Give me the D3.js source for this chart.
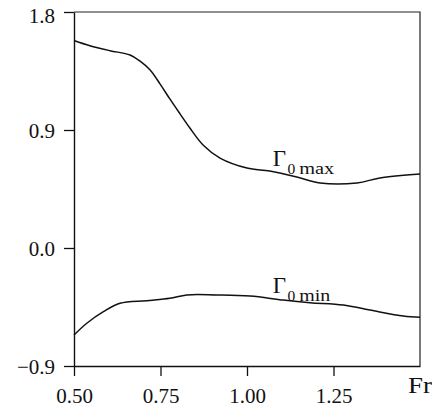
<!DOCTYPE html>
<html>
<head>
<meta charset="utf-8">
<script src="https://cdn.jsdelivr.net/npm/d3@7"></script>
<style>
  html, body { margin: 0; padding: 0; background: #fff; }
  svg { display: block; }
</style>
</head>
<body>
<svg id="chart" width="432" height="409"></svg>
<script>
// ---- data ----
const frMax    = [0.50, 0.546, 0.604, 0.662, 0.691, 0.72, 0.749, 0.777, 0.806, 0.835, 0.873, 0.922, 1.00, 1.066, 1.144, 1.211, 1.318, 1.384, 1.50];
const gammaMax = [1.583, 1.543, 1.505, 1.472, 1.425, 1.358, 1.250, 1.137, 1.025, 0.915, 0.786, 0.686, 0.610, 0.587, 0.542, 0.496, 0.496, 0.534, 0.564];
const frMin    = [0.50, 0.537, 0.585, 0.633, 0.71, 0.777, 0.826, 0.912, 1.009, 1.105, 1.182, 1.278, 1.355, 1.452, 1.50];
const gammaMin = [-0.664, -0.574, -0.486, -0.422, -0.402, -0.384, -0.358, -0.358, -0.366, -0.397, -0.417, -0.435, -0.473, -0.519, -0.529];
const xTicks = [0.50, 0.75, 1.00, 1.25];
const xTickLabels = ["0.50", "0.75", "1.00", "1.25"];
const yTicks = [-0.9, 0.0, 0.9, 1.8];
const yTickLabels = ["\u22120.9", "0.0", "0.9", "1.8"];
const xDomain = [0.5, 1.5];
const yDomain = [-0.9, 1.8];
const xTitle = "Fr";

const SERIF = "'Liberation Serif', 'DejaVu Serif', 'Noto Serif', 'Times New Roman', Times, serif";

// ---- layout ----
const svg = d3.select("#chart");
const L = 74, R = 420, T = 12, B = 366;
const x = d3.scaleLinear().domain(xDomain).range([L, R]);
const y = d3.scaleLinear().domain(yDomain).range([B, T]);

// frame (top & right)
svg.append("path")
  .attr("d", `M${L},${T}H${R}V${B}`)
  .attr("fill", "none").attr("stroke", "#222").attr("stroke-width", 1.2);

// x axis
const xAxis = svg.append("g").attr("transform", `translate(0,${B})`)
  .call(d3.axisBottom(x).tickValues(xTicks).tickSize(10).tickSizeOuter(0)
        .tickFormat((d, i) => xTickLabels[i]));
xAxis.attr("font-family", null);
xAxis.select(".domain").attr("stroke", "#111").attr("stroke-width", 1.4);
xAxis.selectAll(".tick line").attr("stroke", "#111").attr("stroke-width", 1.3);
xAxis.selectAll(".tick text")
  .attr("style", `font-family:${SERIF}`)
  .attr("font-size", 21)
  .attr("y", 37).attr("dy", 0).attr("fill", "#111");

// y axis
const yAxis = svg.append("g").attr("transform", `translate(${L},0)`)
  .call(d3.axisLeft(y).tickValues(yTicks).tickSize(10).tickSizeOuter(0)
        .tickFormat((d, i) => yTickLabels[i]));
yAxis.attr("font-family", null);
yAxis.select(".domain").attr("stroke", "#111").attr("stroke-width", 1.4);
yAxis.selectAll(".tick line").attr("stroke", "#111").attr("stroke-width", 1.3);
yAxis.selectAll(".tick text")
  .attr("style", `font-family:${SERIF}`)
  .attr("font-size", 21)
  .attr("x", -19).attr("dy", (d) => d === 1.8 ? "0.5em" : "0.34em")
  .attr("fill", "#111");

// x title
svg.append("text").attr("x", 408).attr("y", 393)
  .attr("style", `font-family:${SERIF}`)
  .attr("font-size", 23).attr("textLength", 24).attr("lengthAdjust", "spacingAndGlyphs")
  .attr("fill", "#111").text(xTitle);

// curves
const line = d3.line().x(d => x(d[0])).y(d => y(d[1])).curve(d3.curveCatmullRom.alpha(0.5));
svg.append("path").datum(d3.zip(frMax, gammaMax))
  .attr("d", line).attr("fill", "none").attr("stroke", "#111").attr("stroke-width", 1.5);
svg.append("path").datum(d3.zip(frMin, gammaMin))
  .attr("d", line).attr("fill", "none").attr("stroke", "#111").attr("stroke-width", 1.5);

// curve labels
function gLabel(fx, fy, sub, subW) {
  const px = x(fx), py = y(fy);
  const g1 = svg.append("text").attr("x", px + 1.5).attr("y", py)
    .attr("style", `font-family:${SERIF}`).attr("font-size", 23).attr("fill", "#111").text("\u0393");
  const w1 = g1.node().getComputedTextLength();
  const g2 = svg.append("text").attr("x", px + 1.5 + w1 + 1.5).attr("y", py + 8)
    .attr("style", `font-family:${SERIF}`).attr("font-size", 15.5).attr("fill", "#111").text("0");
  const w2 = g2.node().getComputedTextLength();
  svg.append("text").attr("x", px + 1.5 + w1 + 1.5 + w2 + 4).attr("y", py + 8)
    .attr("style", `font-family:${SERIF}`).attr("font-size", 16).attr("fill", "#111")
    .attr("textLength", subW).attr("lengthAdjust", "spacingAndGlyphs").text(sub);
}
gLabel(1.07, 0.625, "max", 35);
gLabel(1.07, -0.34, "min", 31);
</script>
</body>
</html>
